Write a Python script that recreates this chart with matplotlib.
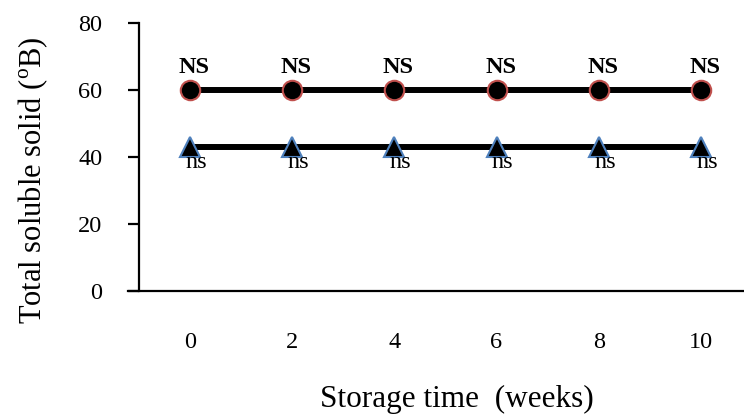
import matplotlib
matplotlib.use('Agg')
import matplotlib.pyplot as plt

weeks = ['0', '2', '4', '6', '8', '10']
series_top = [60, 60, 60, 60, 60, 60]
series_bottom = [43, 43, 43, 43, 43, 43]
top_labels = ['NS'] * 6
bottom_labels = ['ns'] * 6

plt.rcParams['font.family'] = 'Liberation Serif'
plt.rcParams['mathtext.fontset'] = 'custom'
plt.rcParams['mathtext.rm'] = 'Liberation Serif'

fig = plt.figure(figsize=(7.44, 4.16), dpi=100)
ax = fig.add_axes([128 / 744, 125 / 416, 626 / 744, 268 / 416])

x = list(range(len(weeks)))
ax.plot(x, series_top, color='black', linewidth=4.3, marker='o', markersize=14,
        markerfacecolor='black', markeredgecolor='#C0504D', markeredgewidth=1.5)
ax.plot(x, series_bottom, color='black', linewidth=4.3, marker='^', markersize=14,
        markerfacecolor='black', markeredgecolor='#4F81BD', markeredgewidth=1.5)

for i in x:
    ax.annotate(top_labels[i], (i, series_top[i]), xytext=(3, 12), textcoords='offset points',
                ha='center', va='baseline', fontsize=17.5, fontweight='bold')
    ax.annotate(bottom_labels[i], (i, series_bottom[i]), xytext=(4.5, -15), textcoords='offset points',
                ha='center', va='baseline', fontsize=17.5)

ax.set_xlim(-0.607, 5.52)
ax.set_ylim(0, 80)
ax.set_yticks([0, 20, 40, 60, 80])
ax.set_xticks(x)
ax.set_xticklabels(weeks)
ax.spines['top'].set_visible(False)
ax.spines['right'].set_visible(False)
ax.spines['left'].set_position(('data', -0.5))
ax.spines['left'].set_linewidth(1.6)
ax.spines['bottom'].set_linewidth(1.6)
ax.tick_params(axis='y', direction='out', length=8, width=1.6, labelsize=17.5, pad=18.5)
ax.tick_params(axis='x', length=0, labelsize=17.5, pad=29.5)

ax.set_xlabel('Storage time  (weeks)', fontsize=22.5)
ax.xaxis.set_label_coords(0.526, -0.351)
ax.set_ylabel(r'Total soluble solid ($^{\rm o}$B)', fontsize=22)
ax.yaxis.set_label_coords(-0.125, 0.414)

fig.savefig('out.png', dpi=100)
